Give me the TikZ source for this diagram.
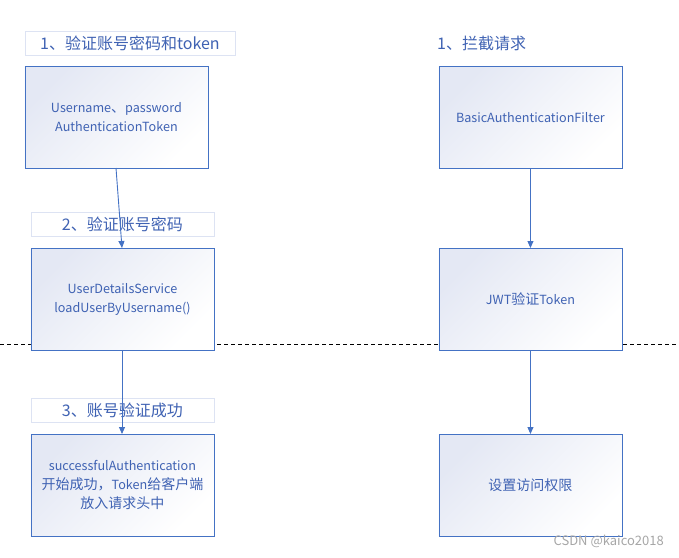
\documentclass[tikz,border=0pt]{standalone}
\usepackage{fontspec}
\setmainfont{Noto Sans CJK SC}
\usetikzlibrary{arrows.meta}
\definecolor{txtblue}{HTML}{3F62B3}
\definecolor{edgeblue}{HTML}{4472C4}
\definecolor{fillblue}{HTML}{E4E8F4}
\definecolor{lbledge}{HTML}{DDE3F3}
\newcommand\zhtxt[1]{{\fontsize{14}{19}\selectfont #1}}
\tikzset{
  box/.style={draw=edgeblue, line width=0.9pt, top color=fillblue, bottom color=white, shading angle=45,
    minimum width=183pt, minimum height=102pt, inner sep=0pt, anchor=north west,
    text=txtblue, font=\fontsize{12.6}{19}\selectfont, align=center},
  lbl/.style={draw=lbledge, line width=0.8pt, fill=white, minimum width=183pt, minimum height=24pt, inner sep=0pt,
    anchor=north west, text=txtblue, font=\fontsize{16}{18}\selectfont},
  plainlbl/.style={text=txtblue, font=\fontsize{16}{18}\selectfont, inner sep=0pt, anchor=west},
  conn/.style={draw=edgeblue, line width=0.9pt, -{Triangle[length=7pt,width=6pt]}},
}
\begin{document}
\begin{tikzpicture}[x=1pt,y=-1pt]
\useasboundingbox (0,0) rectangle (679,557);
\draw[dashed, line width=0.8pt, dash pattern=on 4pt off 3pt] (0,344) -- (679,344);
% left column
\node[lbl, minimum width=210pt] (l1) at (24.5,31) {1、验证账号密码和token};
\node[box] (b1) at (24.5,66) {Username\zhtxt{、}password\\AuthenticationToken};
\node[lbl] (l2) at (30.5,212) {2、验证账号密码};
\node[box] (b2) at (30.5,248) {UserDetailsService\\loadUserByUsername()};
\node[lbl] (l3) at (30.5,398) {3、账号验证成功};
\node[box] (b3) at (30.5,434) {successfulAuthentication\\\zhtxt{开始成功，}Token\zhtxt{给客户端}\\\zhtxt{放入请求头中}};
% right column
\node[plainlbl] (r0) at (437,43) {1、拦截请求};
\node[box] (r1) at (438.5,66) {BasicAuthenticationFilter};
\node[box] (r2) at (438.5,248) {JWT\zhtxt{验证}Token};
\node[box] (r3) at (438.5,434) {\zhtxt{设置访问权限}};
% connectors
\coordinate (a1s) at (116,168);
\coordinate (a1e) at (122,248);
\draw[conn] (a1s) -- (a1e);
\draw[conn] (b2.south -| a1e) -- (b3.north -| a1e);
\draw[conn] (r1.south) -- (r2.north);
\draw[conn] (r2.south) -- (r3.north);
% watermark
\node[text=gray!70, font=\fontsize{13}{14}\selectfont, anchor=east, inner sep=0pt] (wm) at (664,541) {CSDN @kaico2018};
\end{tikzpicture}
\end{document}
